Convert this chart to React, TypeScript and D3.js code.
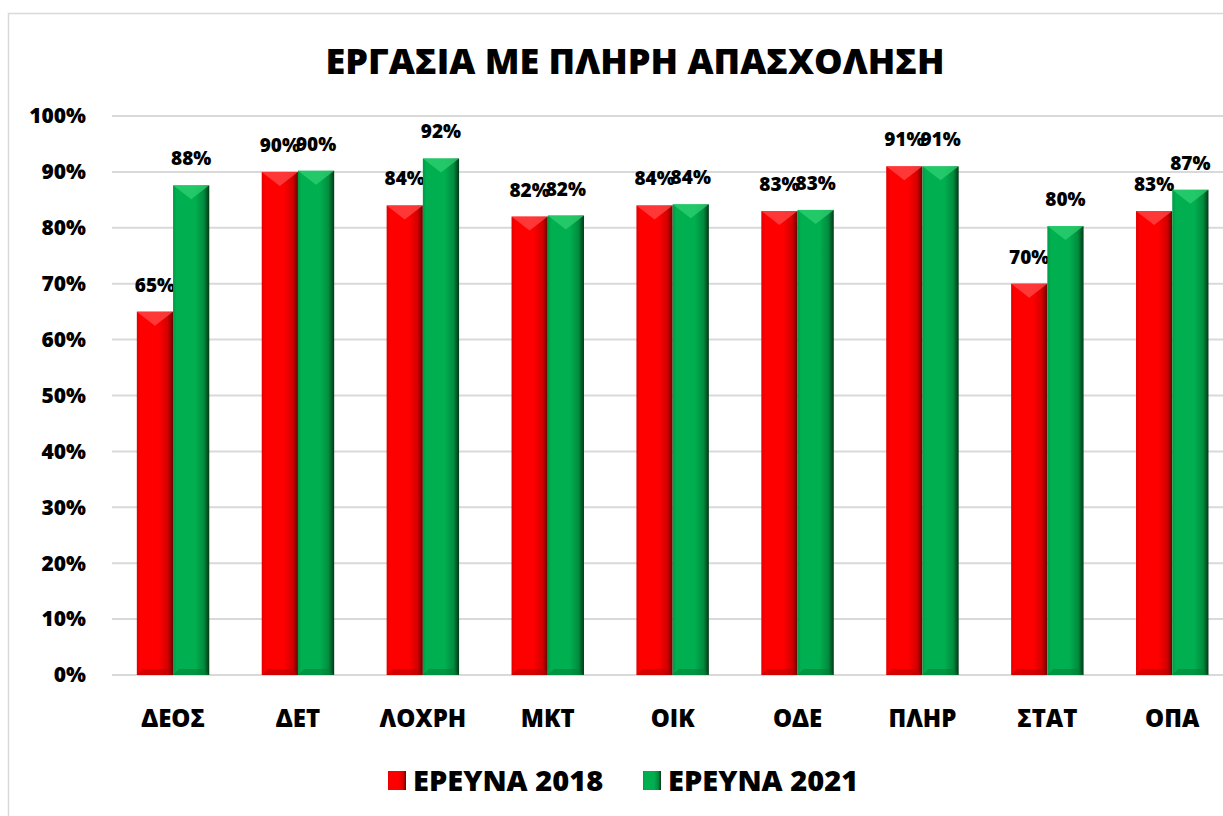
import React, { useEffect, useRef } from "react";
import * as d3 from "d3";

const categories = ["ΔΕΟΣ", "ΔΕΤ", "ΛΟΧΡΗ", "ΜΚΤ", "ΟΙΚ", "ΟΔΕ", "ΠΛΗΡ", "ΣΤΑΤ", "ΟΠΑ"];
const survey2018 = [65, 90, 84, 82, 84, 83, 91, 70, 83];
const survey2021 = [87.6, 90.2, 92.4, 82.2, 84.2, 83.2, 91, 80.3, 86.8];
const seriesNames = ["ΕΡΕΥΝΑ 2018", "ΕΡΕΥΝΑ 2021"];
const yTicks = [0, 10, 20, 30, 40, 50, 60, 70, 80, 90, 100];

const W = 1223;
const H = 816;
const FONT = "'Open Sans', 'Noto Sans', sans-serif";

const App = () => {
  const ref = useRef<SVGSVGElement>(null);

  useEffect(() => {
    const svg = d3.select(ref.current);
    svg.selectAll("*").remove();

    const defs = svg.append("defs");
    const grads = [
      { id: "gRed", stops: ["#e00000", "#ff0000", "#ff0000", "#d40000", "#6a0000"] },
      { id: "gGreen", stops: ["#009a45", "#00b050", "#00b050", "#008c3e", "#003816"] },
    ];
    grads.forEach((g) => {
      const lg = defs.append("linearGradient").attr("id", g.id).attr("x1", "0").attr("x2", "1").attr("y1", "0").attr("y2", "0");
      const offs = [0, 0.1, 0.6, 0.85, 1];
      g.stops.forEach((c, i) => lg.append("stop").attr("offset", offs[i]).attr("stop-color", c));
    });

    // frame
    svg.append("rect")
      .attr("x", 8.5).attr("y", 13.5)
      .attr("width", 1240).attr("height", 830)
      .attr("fill", "white")
      .attr("stroke", "#d9d9d9").attr("stroke-width", 1.5);

    const left = 110.6;
    const right = 1234.7;
    const top = 116;
    const bottom = 675;

    const x = d3.scaleBand().domain(categories).range([left, right]).paddingInner(0.42).paddingOuter(0.21);
    const xs = d3.scaleBand().domain(seriesNames).range([0, x.bandwidth()]);
    const y = d3.scaleLinear().domain([0, 100]).range([bottom, top]);

    // title
    svg.append("text")
      .attr("x", 635).attr("y", 74)
      .attr("text-anchor", "middle")
      .style("font-family", FONT).style("font-weight", 800).style("font-size", "36px")
      .text("ΕΡΓΑΣΙΑ ΜΕ ΠΛΗΡΗ ΑΠΑΣΧΟΛΗΣΗ");

    // grid
    svg.append("g").selectAll("line").data(yTicks).enter().append("line")
      .attr("x1", 112).attr("x2", W)
      .attr("y1", (d) => y(d)).attr("y2", (d) => y(d))
      .attr("stroke", "#d9d9d9").attr("stroke-width", 2);

    // y labels
    svg.append("g").selectAll("text").data(yTicks).enter().append("text")
      .attr("x", 86).attr("y", (d) => y(d))
      .attr("dy", "0.35em")
      .attr("text-anchor", "end")
      .style("font-family", FONT).style("font-weight", 800).style("font-size", "21px")
      .text((d) => d + "%");

    // x labels
    svg.append("g").selectAll("text").data(categories).enter().append("text")
      .attr("x", (d) => (x(d) as number) + x.bandwidth() / 2)
      .attr("y", 727)
      .attr("text-anchor", "middle")
      .style("font-family", FONT).style("font-weight", 800).style("font-size", "24px")
      .text((d) => d);

    const series = [
      { name: seriesNames[0], values: survey2018, fill: "url(#gRed)", light: "#ff4a4a", dark: "#b00000" },
      { name: seriesNames[1], values: survey2021, fill: "url(#gGreen)", light: "#2fd070", dark: "#007a35" },
    ];

    series.forEach((s) => {
      const g = svg.append("g");
      const bw = xs.bandwidth();
      const items = categories.map((c, i) => ({ c, v: s.values[i], x0: (x(c) as number) + (xs(s.name) as number) }));
      g.selectAll("rect").data(items).enter().append("rect")
        .attr("x", (d) => d.x0).attr("y", (d) => y(d.v))
        .attr("width", bw).attr("height", (d) => bottom - y(d.v))
        .attr("fill", s.fill);
      // top bevel highlight
      g.selectAll("path.top").data(items).enter().append("path")
        .attr("class", "top")
        .attr("d", (d) => {
          const t = y(d.v);
          return `M${d.x0},${t} L${d.x0 + bw},${t} L${d.x0 + bw / 2},${t + 14} Z`;
        })
        .attr("fill", s.light).attr("opacity", 0.75);
      // bottom bevel
      g.selectAll("path.bot").data(items).enter().append("path")
        .attr("class", "bot")
        .attr("d", (d) => `M${d.x0},${bottom} L${d.x0 + bw},${bottom} L${d.x0 + bw - 6},${bottom - 6} L${d.x0 + 6},${bottom - 6} Z`)
        .attr("fill", s.dark).attr("opacity", 0.5);
      // labels
      g.selectAll("text").data(items).enter().append("text")
        .attr("x", (d) => d.x0 + bw / 2)
        .attr("y", (d) => y(d.v) - 20)
        .attr("text-anchor", "middle")
        .style("font-family", FONT).style("font-weight", 800).style("font-size", "19px")
        .text((d) => Math.round(d.v) + "%");
    });

    // legend
    const legendItems = [
      { name: seriesNames[0], fill: "url(#gRed)", x: 388 },
      { name: seriesNames[1], fill: "url(#gGreen)", x: 643 },
    ];
    const lg = svg.append("g").selectAll("g").data(legendItems).enter().append("g")
      .attr("transform", (d) => `translate(${d.x},771)`);
    lg.append("rect").attr("width", 18).attr("height", 19).attr("fill", (d) => d.fill);
    lg.append("text")
      .attr("x", 25).attr("y", 20)
      .style("font-family", FONT).style("font-weight", 800).style("font-size", "29px")
      .text((d) => d.name);
  }, []);

  return (
    <div>
      <style>{"body{margin:0}"}</style>
      <svg ref={ref} width={W} height={H} style={{ display: "block", background: "white" }}></svg>
    </div>
  );
};

export default App;
